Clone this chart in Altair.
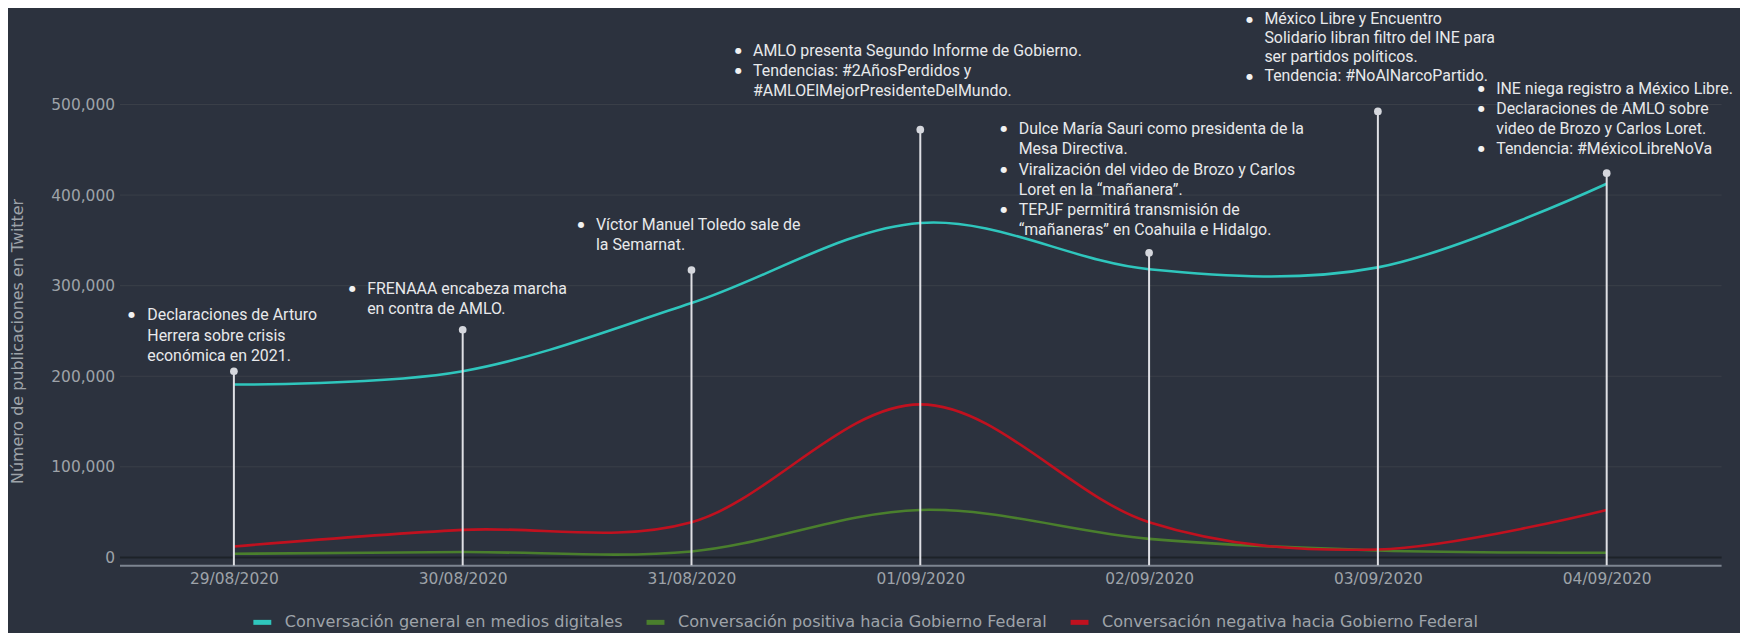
import altair as alt
import pandas as pd

# ---------------- data ----------------
DATES = ["29/08/2020", "30/08/2020", "31/08/2020", "01/09/2020",
         "02/09/2020", "03/09/2020", "04/09/2020"]
SERIES = ["Conversación general en medios digitales",
          "Conversación positiva hacia Gobierno Federal",
          "Conversación negativa hacia Gobierno Federal"]
GENERAL = [190700, 205400, 280700, 369200, 318000, 320100, 412500]
POSITIVA = [3800, 5700, 6400, 52200, 20300, 7500, 4900]
NEGATIVA = [11900, 30200, 38700, 168800, 38700, 8600, 52200]

EVENT_VALUES = [205400, 251200, 317200, 472200, 336200, 492300, 424100]
EVENT_LINES = [
    ["Declaraciones de Arturo", "Herrera sobre crisis", "económica en 2021."],
    ["FRENAAA encabeza marcha", "en contra de AMLO."],
    ["Víctor Manuel Toledo sale de", "la Semarnat."],
    ["AMLO presenta Segundo Informe de Gobierno.", "Tendencias: #2AñosPerdidos y",
     "#AMLOElMejorPresidenteDelMundo."],
    ["Dulce María Sauri como presidenta de la", "Mesa Directiva.",
     "Viralización del video de Brozo y Carlos", "Loret en la “mañanera”.",
     "TEPJF permitirá transmisión de", "“mañaneras” en Coahuila e Hidalgo."],
    ["México Libre y Encuentro", "Solidario libran filtro del INE para",
     "ser partidos políticos.", "Tendencia: #NoAlNarcoPartido."],
    ["INE niega registro a México Libre.", "Declaraciones de AMLO sobre",
     "video de Brozo y Carlos Loret.", "Tendencia: #MéxicoLibreNoVa"],
]
EVENT_BULLETS = [[0], [0], [0], [0, 1], [0, 2, 4], [0, 3], [0, 1, 3]]
Y_TICKS = [0, 100000, 200000, 300000, 400000, 500000]

# ---------------- layout / style ----------------
BG = "#2c323e"
GRAY = "#9ea3a9"
COLORS = ["#2fc6bd", "#4a7f2d", "#c0111f"]
Y_DOMAIN = [-9000, 550000]
W, H = 1609, 508.5
# text block offsets (px) relative to each event circle: (text dx, bullet dx, dy, line height)
OFFSETS = [(-87, -103, -66, 20.2), (-96, -111, -51, 20.2), (-96, -111, -55, 20.2),
           (-168, -183, -89, 20.2), (-131, -146, -134, 20.2), (-114, -129, -102, 19),
           (-111, -126, -95, 20.2)]

df = pd.DataFrame({
    "fecha": DATES * 3,
    "serie": [s for s in SERIES for _ in DATES],
    "valor": GENERAL + POSITIVA + NEGATIVA,
})
ev = pd.DataFrame({"fecha": DATES, "valor": EVENT_VALUES, "base": [Y_DOMAIN[0]] * len(DATES)})

x_enc = alt.X("fecha:N", sort=DATES,
              scale=alt.Scale(type="point", padding=0.5),
              axis=alt.Axis(title=None, labelAngle=0, ticks=False, grid=False,
                            domainColor="#7d8591", domainWidth=2, labelPadding=6,
                            labelFont="DejaVu Sans", labelFontSize=15.5, labelColor=GRAY))
y_enc = alt.Y("valor:Q",
              scale=alt.Scale(domain=Y_DOMAIN, nice=False, zero=False),
              axis=alt.Axis(values=Y_TICKS, labelExpr="format(datum.value, ',')",
                            ticks=False, domain=False,
                            labelPadding=5, labelFont="DejaVu Sans", labelFontSize=15.5,
                            labelColor=GRAY,
                            gridColor={"condition": {"test": "datum.value === 0", "value": "#1d2228"},
                                       "value": "#3a4049"},
                            gridWidth={"condition": {"test": "datum.value === 0", "value": 2},
                                       "value": 1},
                            title="Número de publicaciones en Twitter",
                            titleFont="DejaVu Sans", titleFontSize=16, titleFontWeight="normal",
                            titleColor=GRAY, titleAngle=-90, titleAlign="center",
                            titleBaseline="middle", titleX=-102, titleY=283))

lines = alt.Chart(df).mark_line(interpolate="cardinal", strokeWidth=2.6).encode(
    x=x_enc, y=y_enc,
    color=alt.Color("serie:N", scale=alt.Scale(domain=SERIES, range=COLORS),
                    legend=alt.Legend(orient="none", direction="horizontal",
                                      legendX=132, legendY=554, title=None, padding=0,
                                      symbolType="M-1,0L1,0", symbolSize=324,
                                      symbolStrokeWidth=5, labelFont="DejaVu Sans",
                                      labelFontSize=16.2, labelColor=GRAY, labelOffset=11,
                                      columnPadding=13, labelLimit=0)),
)

rules = alt.Chart(ev).mark_rule(color="#dfe0e5", strokeWidth=2).encode(
    x=x_enc, y=y_enc, y2="base:Q")
dots = alt.Chart(ev).mark_point(filled=True, size=60, color="#d5d7dd", opacity=1).encode(
    x=x_enc, y=y_enc)

layers = [lines, rules, dots]
for i, (d, v) in enumerate(zip(DATES, EVENT_VALUES)):
    tdx, bdx, dy, lh = OFFSETS[i]
    row = pd.DataFrame({"fecha": [d], "valor": [v],
                        "texto": ["\n".join(EVENT_LINES[i])], "bala": ["●"]})
    layers.append(alt.Chart(row).mark_text(
        align="left", baseline="line-top", dx=tdx, dy=dy, lineHeight=lh, lineBreak="\n",
        font="Roboto", fontSize=16, color="#e8e9eb").encode(x=x_enc, y=y_enc, text="texto:N"))
    for k in EVENT_BULLETS[i]:
        layers.append(alt.Chart(row).mark_text(
            align="center", baseline="line-top", dx=bdx, dy=dy + k * lh, lineHeight=lh,
            font="DejaVu Sans", fontSize=8, color="#f2f2f2").encode(
                x=x_enc, y=y_enc, text="bala:N"))

chart = alt.layer(*layers).properties(
    width=W, height=H,
    autosize=alt.AutoSizeParams(type="none"),
    padding={"left": 112, "top": 50, "right": 19, "bottom": 66},
    background=BG,
).configure_view(strokeWidth=0)

chart.save("out.html", embed_options={"renderer": "svg", "actions": False})
